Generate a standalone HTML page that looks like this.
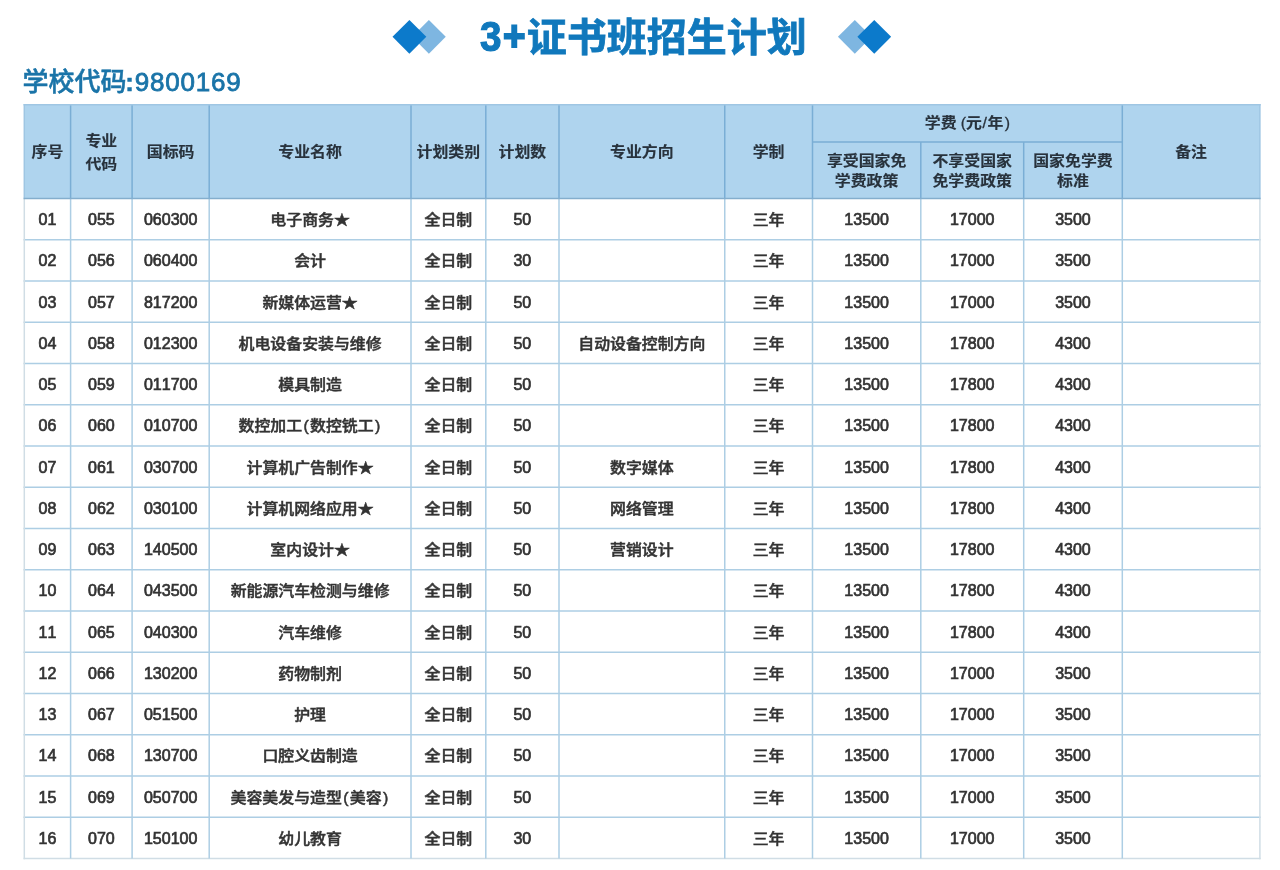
<!DOCTYPE html>
<html lang="zh-CN">
<head>
<meta charset="utf-8">
<title>3+证书班招生计划</title>
<style>
*{box-sizing:border-box;margin:0;padding:0}
html,body{width:1280px;height:870px;overflow:hidden;background:#fff}
body{position:relative;font-family:"Liberation Sans","Noto Sans CJK SC",sans-serif;color:#333}
.deco{position:absolute;top:0;left:0;width:1280px;height:74px}
.title{position:absolute;left:0;top:6.5px;width:1280px;height:60px;line-height:60px;white-space:nowrap;
  font-size:40px;font-weight:700;color:#1078bc}
.title span{position:absolute;left:479.6px;top:0;transform:scaleY(0.965);transform-origin:50% 50%;
  -webkit-text-stroke:0.8px currentColor}
.title .n{display:inline-block;line-height:1;transform:scale(0.94,1.06);transform-origin:0 81%;
  font-size:41px;letter-spacing:1.75px;-webkit-text-stroke:1.2px currentColor;
  position:relative;top:0px;margin-right:-3.1px}
.title .n .p{position:static;display:inline-block;transform:translateY(-1px) scaleX(1.0);-webkit-text-stroke:1.8px currentColor}
.code{position:absolute;left:22.5px;top:63px;height:38px;line-height:38px;white-space:nowrap;
  font-size:26px;font-weight:500;color:#1a74a8;
  -webkit-text-stroke:0.5px currentColor}
.code .c{margin-left:-1.4px;margin-right:0.9px;font-weight:700}
.code .n{letter-spacing:0.8px;-webkit-text-stroke:0.8px currentColor}
.plan{position:absolute;left:24.3px;top:104px;width:1235.6px;border-collapse:separate;border-spacing:0;table-layout:fixed}
.plan th,.plan td{text-align:center;vertical-align:middle;font-size:16px;white-space:nowrap;overflow:hidden;padding:0}
.plan th{background:#afd4ee;color:#28323c;font-weight:700;
  line-height:21px;padding-top:1px;-webkit-text-stroke:0.15px currentColor}
.plan th.two{line-height:26px;padding-top:3.4px}
.plan tr.h2 th{padding-top:1.5px}
.plan th.fee{padding-top:0;padding-bottom:2px}
.plan td{line-height:20px;font-weight:500;padding-top:2.4px;
  -webkit-text-stroke:0.5px currentColor}
.plan td.d{font-weight:400;font-kerning:none;-webkit-text-stroke:0.7px currentColor;padding-top:2.2px}
.plan i{font-style:normal;display:inline-block;width:8px;text-align:center}
.plan th i{font-weight:400;-webkit-text-stroke:0.3px currentColor}
.plan th i.l{width:9.4px;text-align:right}
.plan th i.s{width:5.6px}
.plan th i.r{width:6.6px;text-align:right}
.plan .t{font-size:15.9px;display:inline-block;transform:scaleY(0.91);transform-origin:50% 50%}
.grid{position:absolute;left:0;top:0;width:1280px;height:870px;pointer-events:none}
</style>
</head>
<body>
<svg class="deco" width="1280" height="74" viewBox="0 0 1280 74" aria-hidden="true">
<polygon points="412.05,36.85 428.9,19.9 445.75,36.85 428.9,53.8" fill="#7eb6e1"/>
<polygon points="392.5,36.85 409.4,19.9 426.3,36.85 409.4,53.8" fill="#0c7acb"/>
<polygon points="837.95,36.85 854.8,19.9 871.65,36.85 854.8,53.8" fill="#7eb6e1"/>
<polygon points="857.35,36.85 874.25,19.9 891.15,36.85 874.25,53.8" fill="#0c7acb"/>
</svg>
<h1 class="title"><span><b class="n">3<span class="p">+</span></b>证书班招生计划</span></h1>
<div class="code">学校代码<span class="c">:</span><span class="n">9800169</span></div>
<table class="plan">
<colgroup><col style="width:46.3px"><col style="width:61.5px"><col style="width:77.1px"><col style="width:201.8px"><col style="width:74.8px"><col style="width:73.2px"><col style="width:165.75px"><col style="width:87.75px"><col style="width:108.3px"><col style="width:102.9px"><col style="width:98.6px"><col style="width:137.6px"></colgroup>
<thead>
<tr class="h1" style="height:38.1px">
<th rowspan="2"><span class="t">序号</span></th>
<th rowspan="2" class="two"><span class="t">专业<br>代码</span></th>
<th rowspan="2"><span class="t">国标码</span></th>
<th rowspan="2"><span class="t">专业名称</span></th>
<th rowspan="2"><span class="t">计划类别</span></th>
<th rowspan="2"><span class="t">计划数</span></th>
<th rowspan="2"><span class="t">专业方向</span></th>
<th rowspan="2"><span class="t">学制</span></th>
<th colspan="3" class="fee"><span class="t">学费<i class="l"> (</i>元<i class="s">/</i>年<i class="r">)</i></span></th>
<th rowspan="2"><span class="t">备注</span></th>
</tr>
<tr class="h2" style="height:56.3px">
<th><span class="t">享受国家免<br>学费政策</span></th>
<th><span class="t">不享受国家<br>免学费政策</span></th>
<th><span class="t">国家免学费<br>标准</span></th>
</tr>
</thead>
<tbody>
<tr style="height:41.25px"><td class="d">01</td><td class="d">055</td><td class="d">060300</td><td><span class="t">电子商务★</span></td><td><span class="t">全日制</span></td><td class="d">50</td><td></td><td><span class="t">三年</span></td><td class="d">13500</td><td class="d">17000</td><td class="d">3500</td><td></td></tr>
<tr style="height:41.25px"><td class="d">02</td><td class="d">056</td><td class="d">060400</td><td><span class="t">会计</span></td><td><span class="t">全日制</span></td><td class="d">30</td><td></td><td><span class="t">三年</span></td><td class="d">13500</td><td class="d">17000</td><td class="d">3500</td><td></td></tr>
<tr style="height:41.25px"><td class="d">03</td><td class="d">057</td><td class="d">817200</td><td><span class="t">新媒体运营★</span></td><td><span class="t">全日制</span></td><td class="d">50</td><td></td><td><span class="t">三年</span></td><td class="d">13500</td><td class="d">17000</td><td class="d">3500</td><td></td></tr>
<tr style="height:41.25px"><td class="d">04</td><td class="d">058</td><td class="d">012300</td><td><span class="t">机电设备安装与维修</span></td><td><span class="t">全日制</span></td><td class="d">50</td><td><span class="t">自动设备控制方向</span></td><td><span class="t">三年</span></td><td class="d">13500</td><td class="d">17800</td><td class="d">4300</td><td></td></tr>
<tr style="height:41.25px"><td class="d">05</td><td class="d">059</td><td class="d">011700</td><td><span class="t">模具制造</span></td><td><span class="t">全日制</span></td><td class="d">50</td><td></td><td><span class="t">三年</span></td><td class="d">13500</td><td class="d">17800</td><td class="d">4300</td><td></td></tr>
<tr style="height:41.25px"><td class="d">06</td><td class="d">060</td><td class="d">010700</td><td><span class="t">数控加工<i> (</i>数控铣工<i>)</i></span></td><td><span class="t">全日制</span></td><td class="d">50</td><td></td><td><span class="t">三年</span></td><td class="d">13500</td><td class="d">17800</td><td class="d">4300</td><td></td></tr>
<tr style="height:41.25px"><td class="d">07</td><td class="d">061</td><td class="d">030700</td><td><span class="t">计算机广告制作★</span></td><td><span class="t">全日制</span></td><td class="d">50</td><td><span class="t">数字媒体</span></td><td><span class="t">三年</span></td><td class="d">13500</td><td class="d">17800</td><td class="d">4300</td><td></td></tr>
<tr style="height:41.25px"><td class="d">08</td><td class="d">062</td><td class="d">030100</td><td><span class="t">计算机网络应用★</span></td><td><span class="t">全日制</span></td><td class="d">50</td><td><span class="t">网络管理</span></td><td><span class="t">三年</span></td><td class="d">13500</td><td class="d">17800</td><td class="d">4300</td><td></td></tr>
<tr style="height:41.25px"><td class="d">09</td><td class="d">063</td><td class="d">140500</td><td><span class="t">室内设计★</span></td><td><span class="t">全日制</span></td><td class="d">50</td><td><span class="t">营销设计</span></td><td><span class="t">三年</span></td><td class="d">13500</td><td class="d">17800</td><td class="d">4300</td><td></td></tr>
<tr style="height:41.25px"><td class="d">10</td><td class="d">064</td><td class="d">043500</td><td><span class="t">新能源汽车检测与维修</span></td><td><span class="t">全日制</span></td><td class="d">50</td><td></td><td><span class="t">三年</span></td><td class="d">13500</td><td class="d">17800</td><td class="d">4300</td><td></td></tr>
<tr style="height:41.25px"><td class="d">11</td><td class="d">065</td><td class="d">040300</td><td><span class="t">汽车维修</span></td><td><span class="t">全日制</span></td><td class="d">50</td><td></td><td><span class="t">三年</span></td><td class="d">13500</td><td class="d">17800</td><td class="d">4300</td><td></td></tr>
<tr style="height:41.25px"><td class="d">12</td><td class="d">066</td><td class="d">130200</td><td><span class="t">药物制剂</span></td><td><span class="t">全日制</span></td><td class="d">50</td><td></td><td><span class="t">三年</span></td><td class="d">13500</td><td class="d">17000</td><td class="d">3500</td><td></td></tr>
<tr style="height:41.25px"><td class="d">13</td><td class="d">067</td><td class="d">051500</td><td><span class="t">护理</span></td><td><span class="t">全日制</span></td><td class="d">50</td><td></td><td><span class="t">三年</span></td><td class="d">13500</td><td class="d">17000</td><td class="d">3500</td><td></td></tr>
<tr style="height:41.25px"><td class="d">14</td><td class="d">068</td><td class="d">130700</td><td><span class="t">口腔义齿制造</span></td><td><span class="t">全日制</span></td><td class="d">50</td><td></td><td><span class="t">三年</span></td><td class="d">13500</td><td class="d">17000</td><td class="d">3500</td><td></td></tr>
<tr style="height:41.25px"><td class="d">15</td><td class="d">069</td><td class="d">050700</td><td><span class="t">美容美发与造型<i> (</i>美容<i>)</i></span></td><td><span class="t">全日制</span></td><td class="d">50</td><td></td><td><span class="t">三年</span></td><td class="d">13500</td><td class="d">17000</td><td class="d">3500</td><td></td></tr>
<tr style="height:41.25px"><td class="d">16</td><td class="d">070</td><td class="d">150100</td><td><span class="t">幼儿教育</span></td><td><span class="t">全日制</span></td><td class="d">30</td><td></td><td><span class="t">三年</span></td><td class="d">13500</td><td class="d">17000</td><td class="d">3500</td><td></td></tr>
</tbody>
</table>
<svg class="grid" width="1280" height="870" viewBox="0 0 1280 870" aria-hidden="true">
<line x1="23.55" y1="239.65" x2="1260.65" y2="239.65" stroke="#adcee4" stroke-width="1.5"/>
<line x1="23.55" y1="280.9" x2="1260.65" y2="280.9" stroke="#adcee4" stroke-width="1.5"/>
<line x1="23.55" y1="322.15" x2="1260.65" y2="322.15" stroke="#adcee4" stroke-width="1.5"/>
<line x1="23.55" y1="363.4" x2="1260.65" y2="363.4" stroke="#adcee4" stroke-width="1.5"/>
<line x1="23.55" y1="404.65" x2="1260.65" y2="404.65" stroke="#adcee4" stroke-width="1.5"/>
<line x1="23.55" y1="445.9" x2="1260.65" y2="445.9" stroke="#adcee4" stroke-width="1.5"/>
<line x1="23.55" y1="487.15" x2="1260.65" y2="487.15" stroke="#adcee4" stroke-width="1.5"/>
<line x1="23.55" y1="528.4" x2="1260.65" y2="528.4" stroke="#adcee4" stroke-width="1.5"/>
<line x1="23.55" y1="569.65" x2="1260.65" y2="569.65" stroke="#adcee4" stroke-width="1.5"/>
<line x1="23.55" y1="610.9" x2="1260.65" y2="610.9" stroke="#adcee4" stroke-width="1.5"/>
<line x1="23.55" y1="652.15" x2="1260.65" y2="652.15" stroke="#adcee4" stroke-width="1.5"/>
<line x1="23.55" y1="693.4" x2="1260.65" y2="693.4" stroke="#adcee4" stroke-width="1.5"/>
<line x1="23.55" y1="734.65" x2="1260.65" y2="734.65" stroke="#adcee4" stroke-width="1.5"/>
<line x1="23.55" y1="775.9" x2="1260.65" y2="775.9" stroke="#adcee4" stroke-width="1.5"/>
<line x1="23.55" y1="817.15" x2="1260.65" y2="817.15" stroke="#adcee4" stroke-width="1.5"/>
<line x1="23.55" y1="858.4" x2="1260.65" y2="858.4" stroke="#d0dde5" stroke-width="1.5"/>
<line x1="70.6" y1="198.4" x2="70.6" y2="858.4" stroke="#adcee4" stroke-width="1.5"/>
<line x1="132.1" y1="198.4" x2="132.1" y2="858.4" stroke="#adcee4" stroke-width="1.5"/>
<line x1="209.2" y1="198.4" x2="209.2" y2="858.4" stroke="#adcee4" stroke-width="1.5"/>
<line x1="411" y1="198.4" x2="411" y2="858.4" stroke="#adcee4" stroke-width="1.5"/>
<line x1="485.8" y1="198.4" x2="485.8" y2="858.4" stroke="#adcee4" stroke-width="1.5"/>
<line x1="559" y1="198.4" x2="559" y2="858.4" stroke="#adcee4" stroke-width="1.5"/>
<line x1="724.75" y1="198.4" x2="724.75" y2="858.4" stroke="#adcee4" stroke-width="1.5"/>
<line x1="812.5" y1="198.4" x2="812.5" y2="858.4" stroke="#adcee4" stroke-width="1.5"/>
<line x1="920.8" y1="198.4" x2="920.8" y2="858.4" stroke="#adcee4" stroke-width="1.5"/>
<line x1="1023.7" y1="198.4" x2="1023.7" y2="858.4" stroke="#adcee4" stroke-width="1.5"/>
<line x1="1122.3" y1="198.4" x2="1122.3" y2="858.4" stroke="#adcee4" stroke-width="1.5"/>
<line x1="24.3" y1="198.4" x2="24.3" y2="859.15" stroke="#d0dde5" stroke-width="1.5"/>
<line x1="1259.9" y1="198.4" x2="1259.9" y2="859.15" stroke="#d0dde5" stroke-width="1.5"/>
<line x1="70.6" y1="104" x2="70.6" y2="198.4" stroke="#7aaed5" stroke-width="1.5"/>
<line x1="132.1" y1="104" x2="132.1" y2="198.4" stroke="#7aaed5" stroke-width="1.5"/>
<line x1="209.2" y1="104" x2="209.2" y2="198.4" stroke="#7aaed5" stroke-width="1.5"/>
<line x1="411" y1="104" x2="411" y2="198.4" stroke="#7aaed5" stroke-width="1.5"/>
<line x1="485.8" y1="104" x2="485.8" y2="198.4" stroke="#7aaed5" stroke-width="1.5"/>
<line x1="559" y1="104" x2="559" y2="198.4" stroke="#7aaed5" stroke-width="1.5"/>
<line x1="724.75" y1="104" x2="724.75" y2="198.4" stroke="#7aaed5" stroke-width="1.5"/>
<line x1="812.5" y1="104" x2="812.5" y2="198.4" stroke="#7aaed5" stroke-width="1.5"/>
<line x1="920.8" y1="142.1" x2="920.8" y2="198.4" stroke="#7aaed5" stroke-width="1.5"/>
<line x1="1023.7" y1="142.1" x2="1023.7" y2="198.4" stroke="#7aaed5" stroke-width="1.5"/>
<line x1="1122.3" y1="104" x2="1122.3" y2="198.4" stroke="#7aaed5" stroke-width="1.5"/>
<line x1="812.5" y1="142.1" x2="1122.3" y2="142.1" stroke="#7aaed5" stroke-width="1.5"/>
<line x1="24.3" y1="104" x2="24.3" y2="198.4" stroke="#9fc6e3" stroke-width="1.5"/>
<line x1="1259.9" y1="104" x2="1259.9" y2="198.4" stroke="#9fc6e3" stroke-width="1.5"/>
<line x1="23.55" y1="104.7" x2="1260.65" y2="104.7" stroke="#9fc6e3" stroke-width="1.5"/>
<line x1="23.55" y1="198.4" x2="1260.65" y2="198.4" stroke="#84aecd" stroke-width="1.5"/>
</svg>
</body>
</html>
